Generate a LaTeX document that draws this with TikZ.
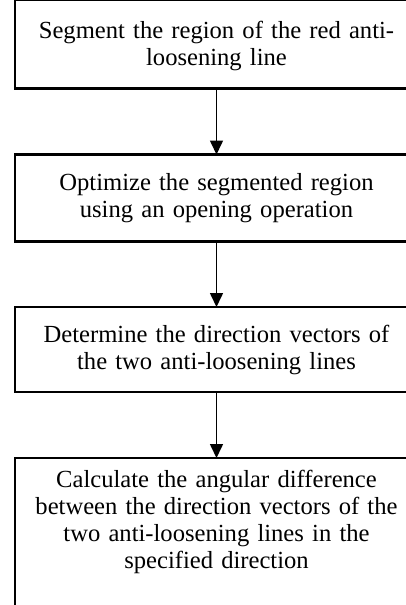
\documentclass[tikz,border=0pt]{standalone}
\usepackage{fontspec}
\setmainfont{Liberation Serif}
\usetikzlibrary{arrows.meta}
\begin{document}
\begin{tikzpicture}[x=1pt,y=-1pt,
  stepbox/.style={draw=black,line width=2.2pt,minimum width=420pt,inner sep=0pt,anchor=west},
  txt/.style={inner sep=0pt,font=\fontsize{24.6pt}{27pt}\selectfont,align=center,text width=400pt},
  flow/.style={draw=black,line width=1.6pt,-{Triangle[length=14pt,width=13pt]}}]
\useasboundingbox (0,0) rectangle (406,605);
\begin{scope}
\clip (0,0) rectangle (406,605);
\node[stepbox,minimum height=88.5pt] (b1) at (13.5,44.25) {};
\node[stepbox,minimum height=87pt] (b2) at (13.5,198) {};
\node[stepbox,minimum height=85pt] (b3) at (13.5,349.5) {};
\node[stepbox,minimum height=200pt] (b4) at (13.5,558) {};
\node[txt] (t1) at (216.5,46) {Segment the region of the red anti-\\loosening line};
\node[txt] (t2) at (216.5,198) {Optimize the segmented region\\using an opening operation};
\node[txt] (t3) at (216.5,349.5) {Determine the direction vectors of\\the two anti-loosening lines};
\node[txt] (t4) at (216.5,522) {Calculate the angular difference\\between the direction vectors of the\\two anti-loosening lines in the\\specified direction};
\coordinate (a1) at (216.5,88.5);
\coordinate (a2) at (216.5,154.5);
\coordinate (a3) at (216.5,241.5);
\coordinate (a4) at (216.5,307);
\coordinate (a5) at (216.5,392);
\coordinate (a6) at (216.5,458);
\draw[flow] (a1) -- (a2);
\draw[flow] (a3) -- (a4);
\draw[flow] (a5) -- (a6);
\end{scope}
\end{tikzpicture}
\end{document}
